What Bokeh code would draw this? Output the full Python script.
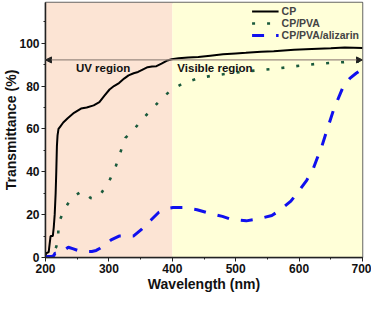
from bokeh.plotting import figure
from bokeh.models import BoxAnnotation, Arrow, NormalHead, Label, Legend, LegendItem, SingleIntervalTicker, Range1d
from bokeh.embed import file_html
from bokeh.resources import INLINE

# ---- data ----
cp_wl = [200, 201, 205, 208, 211.5, 213, 214.5, 216, 217, 218, 219, 220.5, 223, 228, 235, 245, 256, 265,
         276, 285, 293, 301, 308, 316, 324, 331, 339, 346, 354, 361, 368, 375, 383, 391, 399, 410, 425,
         441, 460, 480, 500, 516, 540, 560, 592, 620, 650, 672, 700]
cp_t = [0, 2, 2.5, 10, 10, 14, 20, 30, 40, 52, 57, 60, 61, 63, 65, 67.5, 69.5, 70,
        71, 72.5, 75.5, 78.4, 80, 81.4, 83.5, 85, 86, 86.6, 87.8, 88.8, 89.1, 89.3, 90.5, 91.8, 92.5, 93, 93.3,
        93.6, 94.2, 94.8, 95.2, 95.5, 96, 96.3, 97, 97.3, 97.6, 98, 97.8]

pva_wl = [200, 208, 213, 217, 219.6, 220.6, 223, 231.6, 241.7, 256.8, 263, 270.8, 278, 288, 301, 311, 318.5,
          326, 338.6, 352, 368.7, 382.7, 399, 420, 444, 466.6, 490.7, 514, 537, 559.5, 582, 603.6, 626,
          650, 672, 700]
pva_t = [0, 0.5, 2.5, 5, 8, 14.7, 17.8, 23.4, 28, 30.8, 30, 27.8, 27.5, 30, 36, 42.7, 49.4,
         55.8, 59.4, 64.3, 69.5, 74, 78.4, 81.7, 83.9, 85, 85.9, 86.8, 87.4, 88, 88.8, 89.6, 90.3,
         90.8, 91.2, 91.5]

ali_wl = [200, 205, 210, 213, 215, 218, 222, 226, 230, 236, 244, 251, 262, 273, 280, 286, 295, 303.5, 316,
          328, 338.6, 351, 366, 378.8, 390, 401, 416, 439, 456.5, 479, 494, 516.7, 534, 557, 569, 587,
          597, 612, 622, 629.7, 636, 642, 655, 670, 680, 690, 700]
ali_t = [0.3, 0.5, 0.5, 0.8, 2, 2, 2.2, 2.3, 3.5, 4.8, 4, 3.3, 2.8, 2.8, 3.3, 4.3, 6.2, 8.2, 10,
         10, 10, 13, 17.4, 21.1, 22.8, 23.3, 23.3, 22.3, 20.8, 19.2, 17.7, 17.1, 17.9, 19.6, 21.9, 26.3,
         30, 36, 41.2, 47.2, 52, 57.6, 69.5, 80, 83.6, 86, 88]

series_names = ["CP", "CP/PVA", "CP/PVA/alizarin"]
uv_range = [200, 400]
vis_range = [400, 700]
arrow_level = 92.2
region_labels = ["UV region", "Visible region"]
x_title = "Wavelength (nm)"
y_title = "Transmittance (%)"

FONT = "Liberation Sans"

p = figure(width=371, height=294, output_backend="svg", toolbar_location=None,
           x_range=Range1d(200, 700), y_range=Range1d(0, 119),
           min_border_left=0, min_border_right=9, min_border_top=2, min_border_bottom=0)
p.grid.visible = False
p.background_fill_color = "white"
p.outline_line_color = "#666666"
p.outline_line_width = 1.5

# region shading
p.add_layout(BoxAnnotation(left=uv_range[0], right=uv_range[1], fill_color="#FCE4D4", fill_alpha=1,
                           line_alpha=0, level="underlay"))
p.add_layout(BoxAnnotation(left=vis_range[0], right=vis_range[1], fill_color="#FFFFD8", fill_alpha=1,
                           line_alpha=0, level="underlay"))

# double arrow
p.add_layout(Arrow(x_start=uv_range[0], y_start=arrow_level, x_end=vis_range[1], y_end=arrow_level,
                   line_color="#9a8a80", line_width=1.2,
                   start=NormalHead(size=6, fill_color="#222222", line_color="#222222"),
                   end=NormalHead(size=6, fill_color="#222222", line_color="#222222")))

p.add_layout(Label(x=248, y=88.5, text=region_labels[0], text_font=FONT, text_font_style="bold",
                   text_font_size="11.5px", text_baseline="middle", text_color="#111111"))
p.add_layout(Label(x=408, y=88.5, text=region_labels[1], text_font=FONT, text_font_style="bold",
                   text_font_size="11.5px", text_baseline="middle", text_color="#111111"))

r1 = p.line(cp_wl, cp_t, line_color="black", line_width=2)
r2 = p.line(pva_wl, pva_t, line_color="#1a5a3c", line_width=2.6, line_dash="3 12")
r3 = p.line(ali_wl, ali_t, line_color="#1010ee", line_width=3, line_dash="12 12")

legend = Legend(items=[LegendItem(label=series_names[0], renderers=[r1]),
                       LegendItem(label=series_names[1], renderers=[r2]),
                       LegendItem(label=series_names[2], renderers=[r3])],
                location="top_right", label_text_font=FONT, label_text_font_style="bold",
                label_text_font_size="10.5px", glyph_width=27, glyph_height=12, spacing=0,
                label_height=12, padding=1, margin=2, label_standoff=3,
                background_fill_alpha=0, border_line_alpha=0)
p.add_layout(legend)

# axes
p.xaxis.ticker = SingleIntervalTicker(interval=100, num_minor_ticks=2)
p.yaxis.ticker = SingleIntervalTicker(interval=20, num_minor_ticks=2)
for ax in (p.xaxis[0], p.yaxis[0]):
    ax.major_label_text_font = FONT
    ax.major_label_text_font_style = "bold"
    ax.major_label_text_font_size = "12px"
    ax.major_label_text_color = "#111111"
    ax.axis_label_text_font = FONT
    ax.axis_label_text_font_style = "bold"
    ax.axis_label_text_font_size = "14px"
    ax.axis_label_text_color = "#111111"
    ax.axis_line_color = "#222222"
    ax.axis_line_width = 1.5
    ax.major_tick_line_color = "#222222"
    ax.minor_tick_line_color = "#222222"
    ax.major_tick_in = 0
    ax.major_tick_out = 4
    ax.minor_tick_in = 0
    ax.minor_tick_out = 2
    ax.major_label_standoff = 2
p.xaxis.axis_label_standoff = 0
p.yaxis.axis_label_standoff = -3
p.xaxis.axis_label = x_title
p.yaxis.axis_label = y_title

open("out.html", "w").write(file_html(p, INLINE))
